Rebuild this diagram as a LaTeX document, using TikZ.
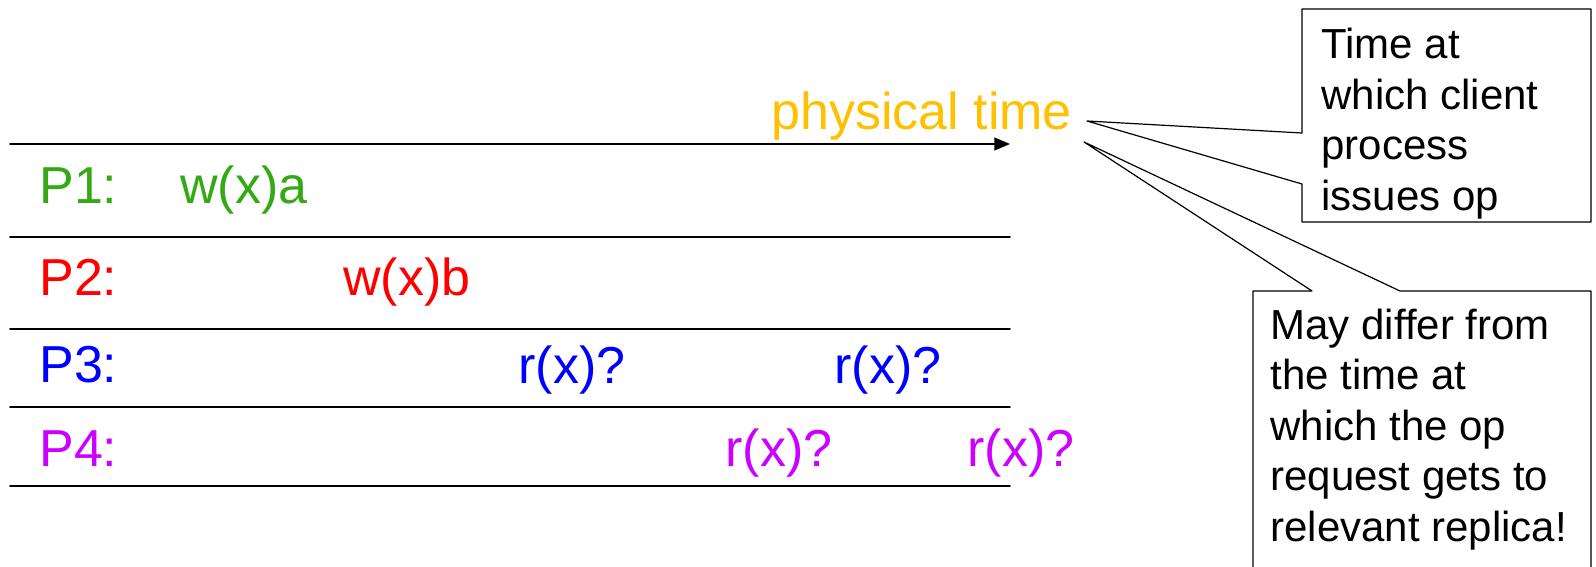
\documentclass[tikz,border=0pt]{standalone}
\usepackage{fontspec}
\setmainfont{Liberation Sans}
\usetikzlibrary{arrows}
\definecolor{pgreen}{RGB}{51,170,20}
\definecolor{pred}{RGB}{255,0,0}
\definecolor{pblue}{RGB}{0,0,255}
\definecolor{pviolet}{RGB}{204,0,255}
\definecolor{porange}{RGB}{255,192,0}

\begin{document}
\begin{tikzpicture}[line cap=round,line join=round,>=triangle 45,x=0.5pt,y=-0.5pt,
	proc/.style={anchor=base west,inner sep=0pt,font=\fontsize{26}{31}\selectfont},
	note/.style={anchor=base west,inner sep=0pt,align=left,font=\fontsize{21}{25.25}\selectfont},
	callout/.style={draw,line width=0.6pt,fill=white}]
	\clip (0,0) rectangle (1596,567);
	\draw [line width=0.8pt,->] (10,144)-- (1010,144);
	\draw [line width=0.8pt] (10,237)-- (1010,237);
	\draw [line width=0.8pt] (10,329)-- (1010,329);
	\draw [line width=0.8pt] (10,407)-- (1010,407);
	\draw [line width=0.8pt] (10,486)-- (1010,486);
	
	\node[proc,porange] (ptime) at (771,130) {physical time};
	
	\node[proc,pgreen] (p1) at (39,204) {P1:};
	\node[proc,pgreen] (wa) at (180,204) {w(x)a};
	\node[proc,pred] (p2) at (39,295) {P2:};
	\node[proc,pred] (wb) at (343,295) {w(x)b};
	\node[proc,pblue] (p3) at (39,382) {P3:};
	\node[proc,pblue] (r3a) at (518,383) {r(x)?};
	\node[proc,pblue] (r3b) at (834,383) {r(x)?};
	\node[proc,pviolet] (p4) at (39,466) {P4:};
	\node[proc,pviolet] (r4a) at (725,466) {r(x)?};
	\node[proc,pviolet] (r4b) at (967,466) {r(x)?};
	
	% callout boxes (text anchored at the last line)
	\coordinate (tipa) at (1087,121);
	\coordinate (tipb) at (1084,142);
	\draw[callout] (1302,9)-- (1591,9)-- (1591,222)-- (1302,222)-- (1302,184)-- (tipa)-- (1302,133)-- cycle;
	\draw[callout] (1253,291)-- (1312,291)-- (tipb)-- (1400,291)-- (1591,291)-- (1591,600)-- (1253,600)-- cycle;
	\node[note] (issue) at (1321,210) {Time at\\which client\\process\\issues op};
	\node[note] (differ) at (1270,541) {May differ from\\the time at\\which the op\\request gets to\\relevant replica!};
\end{tikzpicture}
\end{document}
